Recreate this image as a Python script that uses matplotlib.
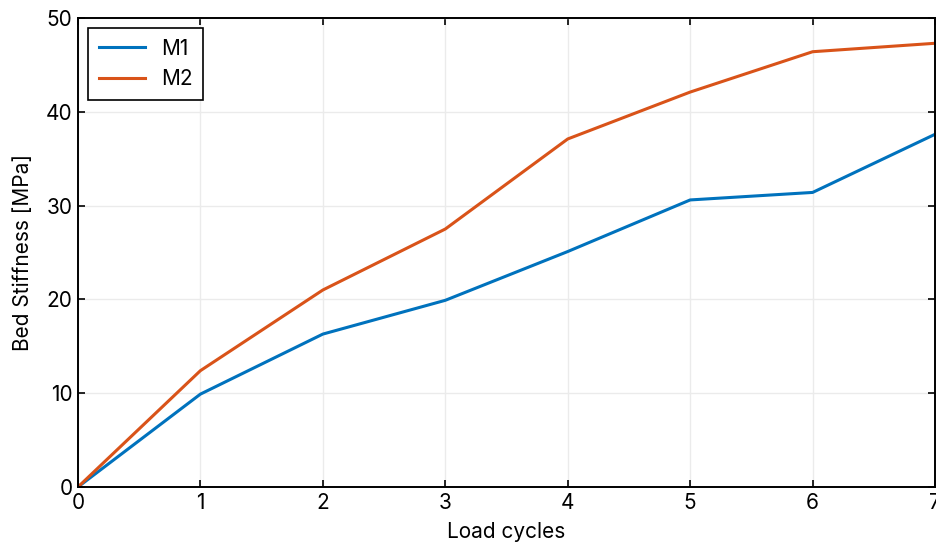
import matplotlib
matplotlib.use("Agg")
import matplotlib.pyplot as plt

# Rigidez del lecho por ciclo de carga
cycles = [0, 1, 2, 3, 4, 5, 6, 7]
m1_stiffness = [0.0, 9.9, 16.3, 19.9, 25.1, 30.6, 31.4, 37.6]
m2_stiffness = [0.0, 12.4, 21.0, 27.5, 37.1, 42.1, 46.4, 47.3]

plt.rcParams["font.family"] = ["Inter", "DejaVu Sans"]
plt.rcParams["font.size"] = 15

fig = plt.figure(figsize=(9.36, 5.44), dpi=100)
ax = fig.add_axes([0.0833, 0.1048, 0.9157, 0.8622])

ax.plot(cycles, m1_stiffness, color="#0072BD", linewidth=2.2, label="M1")
ax.plot(cycles, m2_stiffness, color="#D95319", linewidth=2.2, label="M2")

ax.set_xlim(0, 7)
ax.set_ylim(0, 50)
ax.set_xticks(range(0, 8))
ax.set_yticks(range(0, 51, 10))
ax.set_xlabel("Load cycles", labelpad=7)
ax.set_ylabel("Bed Stiffness [MPa]", labelpad=9)

ax.grid(True, color="#ebebeb", linewidth=1.0)
ax.set_axisbelow(True)
ax.tick_params(direction="in", top=True, right=True, length=5, width=1.2,
               labelsize=15, pad=4)
for spine in ax.spines.values():
    spine.set_linewidth(1.4)

leg = ax.legend(loc="upper left", fancybox=False, edgecolor="black", framealpha=1,
                handlelength=2.2, borderpad=0.5, labelspacing=0.5, fontsize=15)
leg.get_frame().set_linewidth(1.2)

fig.savefig("out.png", dpi=100)
